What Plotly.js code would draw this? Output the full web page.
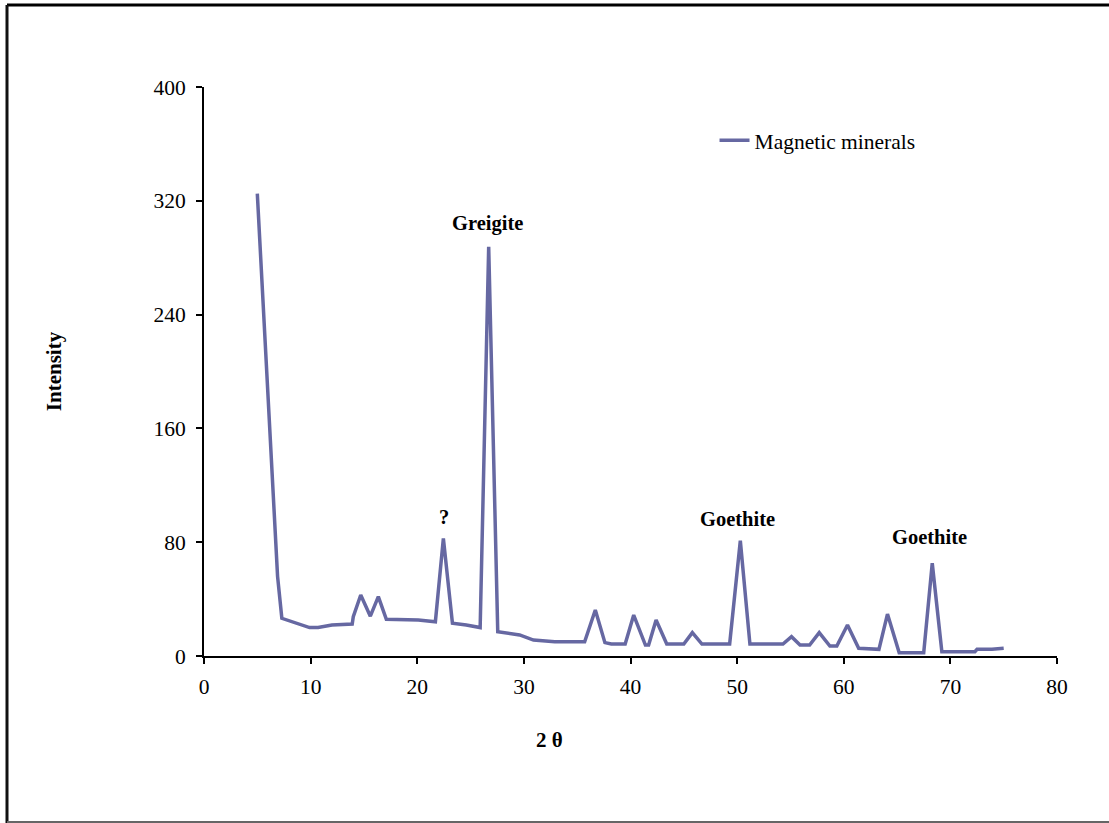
<!DOCTYPE html>
<html>
<head>
<meta charset="utf-8">
<script src="https://cdn.plot.ly/plotly-3.0.1.min.js"></script>
<style>html,body{margin:0;padding:0;background:#fff;}#chart{width:1109px;height:823px;}</style>
</head>
<body>
<div id="chart"></div>
<script>
const twoTheta = [5.0, 6.9, 7.3, 8.4, 9.9, 10.7, 12.0, 13.9, 14.0, 14.7, 15.6, 16.35, 17.1, 20.1, 21.7, 22.45, 23.3, 24.6, 25.9, 26.7, 27.55, 29.6, 30.9, 32.9, 35.7, 36.7, 37.6, 38.2, 39.5, 40.3, 41.4, 41.7, 42.4, 43.4, 45.0, 45.8, 46.7, 49.3, 50.3, 51.2, 54.3, 55.1, 55.9, 56.8, 57.7, 58.7, 59.35, 60.35, 61.4, 63.3, 64.1, 65.2, 67.5, 68.3, 69.2, 72.3, 72.5, 73.9, 75.0];
const intensity = [325, 56, 26.5, 24, 20, 20, 21.8, 22.5, 27.6, 42.9, 28, 41.7, 25.8, 25.3, 24.1, 82.7, 23, 21.8, 20, 287.7, 17, 14.8, 11.2, 10, 10, 32.3, 9.4, 8.4, 8.4, 28.8, 7.7, 7.7, 25.3, 8.4, 8.4, 16.4, 8.4, 8.4, 81, 8.4, 8.4, 13.6, 7.7, 7.7, 16.4, 7, 7, 21.8, 5.4, 4.7, 29.5, 2.3, 2.3, 65.2, 3, 3, 4.7, 4.7, 5.4];
const seriesName = "Magnetic minerals";
const peakLabels = ["Greigite", "?", "Goethite", "Goethite"];
const peakX = [26.55, 22.5, 50.0, 68.0];
const peakY = [304, 97.7, 96.3, 83.7];
const xTicks = [0, 10, 20, 30, 40, 50, 60, 70, 80];
const yTicks = [0, 80, 160, 240, 320, 400];
const xTitle = "2 θ";
const yTitle = "Intensity";

const serif = "Liberation Serif, Times New Roman, serif";
const lineColor = "#6668A2";

const trace = {
  x: twoTheta, y: intensity, type: "scatter", mode: "lines", name: seriesName,
  line: {color: lineColor, width: 3.5}
};

const annotations = peakLabels.map((t, i) => ({
  x: peakX[i], y: peakY[i], xref: "x", yref: "y", text: "<b>" + t + "</b>",
  showarrow: false, font: {family: serif, size: 20.5, color: "#000"}
}));
annotations.push({
  x: (549 - 204) / 853, y: -(740 - 656) / 569, xref: "paper", yref: "paper",
  text: "<b>" + xTitle + "</b>", showarrow: false, xanchor: "center", yanchor: "middle",
  font: {family: serif, size: 21, color: "#000"}
});

const layout = {
  width: 1109, height: 823,
  margin: {l: 204, r: 52, t: 87, b: 167},
  paper_bgcolor: "#fff", plot_bgcolor: "#fff",
  showlegend: true,
  legend: {x: 0.5985, y: 0.9065, xanchor: "left", yanchor: "middle", bgcolor: "rgba(0,0,0,0)",
    font: {family: serif, size: 21.5, color: "#000"}},
  xaxis: {
    range: [0, 80], tickvals: xTicks, ticktext: xTicks.map(String),
    showgrid: false, zeroline: false, showline: true, linecolor: "#000", linewidth: 2,
    ticks: "outside", ticklen: 6, tickwidth: 2, tickcolor: "#000", ticklabelstandoff: 4,
    tickfont: {family: serif, size: 21.5, color: "#000"},
    fixedrange: true
  },
  yaxis: {
    range: [0, 400], tickvals: yTicks, ticktext: yTicks.map(String),
    showgrid: false, zeroline: false, showline: true, linecolor: "#000", linewidth: 2,
    ticks: "outside", ticklen: 6, tickwidth: 2, tickcolor: "#000", ticklabelstandoff: 6,
    tickfont: {family: serif, size: 21.5, color: "#000"},
    title: {text: "<b>" + yTitle + "</b>", font: {family: serif, size: 21, color: "#000"}, standoff: 86},
    automargin: true, fixedrange: true
  },
  annotations: annotations,
  shapes: [
    {type: "line", xref: "paper", yref: "paper", x0: (7-204)/853, x1: (1115-204)/853, y0: (656-5)/569, y1: (656-5)/569, line: {color: "#000", width: 3}},
    {type: "line", xref: "paper", yref: "paper", x0: (7-204)/853, x1: (7-204)/853, y0: (656-5)/569, y1: (656-823)/569, line: {color: "#111", width: 3}},
    {type: "line", xref: "paper", yref: "paper", x0: (7-204)/853, x1: (1115-204)/853, y0: (656-822)/569, y1: (656-822)/569, line: {color: "#666", width: 2}}
  ]
};

Plotly.newPlot("chart", [trace], layout, {displayModeBar: false, staticPlot: true});
</script>
</body>
</html>
